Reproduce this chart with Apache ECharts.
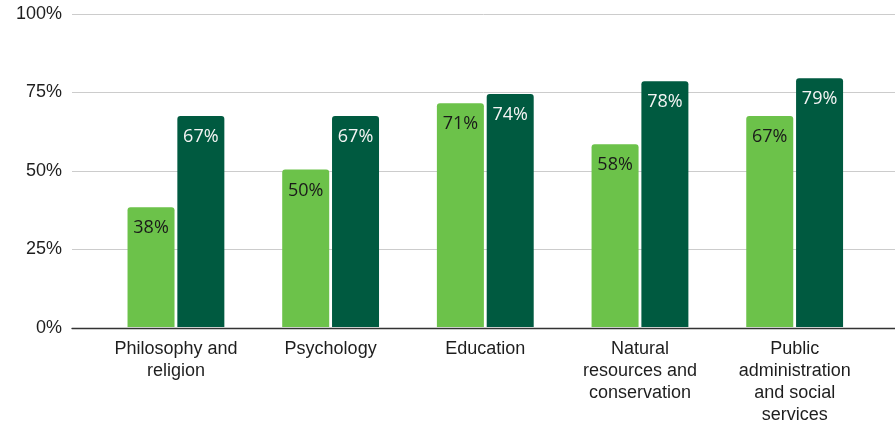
<!DOCTYPE html>
<html><head><meta charset="utf-8">
<script src="https://cdn.jsdelivr.net/npm/echarts@6/dist/echarts.min.js"></script>
<style>html,body{margin:0;padding:0;background:#fff}#c{width:895px;height:426px}</style>
</head><body><div id="c"></div>
<script>
const categories = ["Philosophy and\nreligion", "Psychology", "Education", "Natural\nresources and\nconservation", "Public\nadministration\nand social\nservices"];
const seriesA = [38, 50, 71, 58, 67];
const seriesB = [67, 67, 74, 78, 79];
const yTicks = [0, 25, 50, 75, 100];

(function () {
const chart = echarts.init(document.getElementById('c'), null, {renderer: 'canvas'});
const font = 'Liberation Sans, Arial, sans-serif';
const labelFont = 'Open Sans, sans-serif';
const gTop = 12, gBottom = 98;
chart.setOption({
  animation: false,
  grid: [
    {left: 72, right: 0, top: gTop, bottom: gBottom},
    {left: 98.6, right: 23, top: gTop, bottom: gBottom}
  ],
  xAxis: [
    {gridIndex: 0, type: 'value', min: 0, max: 1, show: true,
     axisLine: {show: true, onZero: false, lineStyle: {color: '#333', width: 1.3}},
     axisTick: {show: false}, axisLabel: {show: false}, splitLine: {show: false}},
    {gridIndex: 1, type: 'category', data: categories,
     axisLine: {show: false}, axisTick: {show: false},
     axisLabel: {color: '#1e1e1e', fontSize: 18, fontFamily: font, lineHeight: 22, margin: 11, interval: 0}}
  ],
  yAxis: [
    {gridIndex: 0, type: 'value', min: yTicks[0], max: yTicks[yTicks.length-1], interval: 25,
     axisLine: {show: false}, axisTick: {show: false},
     axisLabel: {color: '#1e1e1e', fontSize: 18, fontFamily: font, margin: 10, lineHeight: 22, padding: [6, 0, 0, 0], formatter: v => v + '%'},
     splitLine: {lineStyle: {color: '#cccccc', width: 1}}},
    {gridIndex: 1, type: 'value', min: 0, max: 100, show: false, splitLine: {show: false}}
  ],
  series: [
    {type: 'bar', xAxisIndex: 1, yAxisIndex: 1, data: seriesA, barWidth: 47, barGap: '6%',
     itemStyle: {color: '#6cc24a', borderRadius: [3, 3, 0, 0]},
     label: {show: true, position: 'insideTop', distance: 12, color: '#1a1a1a', fontSize: 18, fontFamily: labelFont, formatter: p => p.value + '%'}},
    {type: 'bar', xAxisIndex: 1, yAxisIndex: 1, data: seriesB, barWidth: 47,
     itemStyle: {color: '#005a40', borderRadius: [3, 3, 0, 0]},
     label: {show: true, position: 'insideTop', distance: 12, color: '#f4f4f4', fontSize: 18, fontFamily: labelFont, formatter: p => p.value + '%'}}
  ]
});
})();
</script></body></html>
